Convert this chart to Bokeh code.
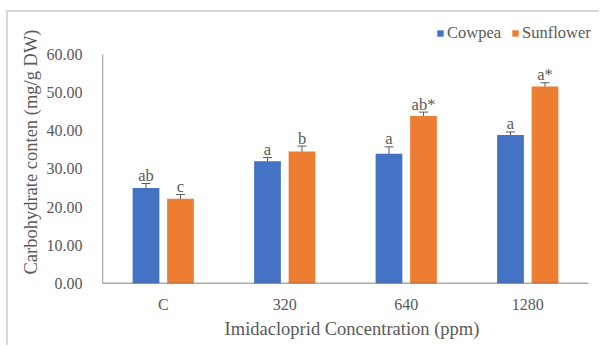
from bokeh.plotting import figure
from bokeh.models import (ColumnDataSource, Range1d, FixedTicker, Whisker, TeeHead,
                          Legend, LegendItem)
from bokeh.embed import file_html
from bokeh.resources import INLINE
from bokeh.core.properties import value

categories = ["C", "320", "640", "1280"]
cowpea = [25.0, 32.0, 34.0, 38.9]
cowpea_err = [1.2, 1.0, 1.8, 0.8]
sunflower = [22.2, 34.6, 43.9, 51.6]
sunflower_err = [1.1, 1.4, 1.0, 1.0]
cowpea_labels = ["ab", "a", "a", "a"]
sunflower_labels = ["c", "b", "ab*", "a*"]
y_ticks = [0, 10, 20, 30, 40, 50, 60]

BLUE = "#4472C4"
ORANGE = "#ED7D31"
GRAY = "#595959"
FONT = "Liberation Serif"

off = 0.142
bw = 0.22
n = len(categories)
centers = [i + 0.5 for i in range(n)]

p = figure(width=593, height=335, output_backend="svg", toolbar_location=None,
           x_range=Range1d(0, n * 499 / 486), y_range=Range1d(0, 68.9),
           min_border_left=94, min_border_right=0, min_border_top=8,
           min_border_bottom=64)
p.margin = (10, 0, 0, 6)
p.styles = {"border-top": "2px solid #d9d9d9", "border-left": "2px solid #d9d9d9"}
p.outline_line_color = None
p.xgrid.grid_line_color = None
p.ygrid.grid_line_color = None
p.background_fill_color = "white"
p.border_fill_color = "white"

src_c = ColumnDataSource(dict(x=[c - off for c in centers], top=cowpea,
                              up=[v + e for v, e in zip(cowpea, cowpea_err)],
                              lo=[v - e for v, e in zip(cowpea, cowpea_err)],
                              lab=cowpea_labels))
src_s = ColumnDataSource(dict(x=[c + off for c in centers], top=sunflower,
                              up=[v + e for v, e in zip(sunflower, sunflower_err)],
                              lo=[v - e for v, e in zip(sunflower, sunflower_err)],
                              lab=sunflower_labels))

rc = p.vbar(x="x", top="top", width=bw, source=src_c, fill_color=BLUE, line_color=None)
rs = p.vbar(x="x", top="top", width=bw, source=src_s, fill_color=ORANGE, line_color=None)

for src in (src_c, src_s):
    w = Whisker(source=src, base="x", upper="up", lower="lo", line_color=GRAY, line_width=1,
                upper_head=TeeHead(size=9, line_color=GRAY, line_width=1),
                lower_head=TeeHead(size=9, line_color=GRAY, line_width=1))
    p.add_layout(w)
    p.text(x="x", y="up", text="lab", source=src, text_align="center",
           text_baseline="alphabetic", y_offset=-8, text_font=value(FONT),
           text_font_size="16.5px", text_color=GRAY)

# axis lines: y from 0 to 60, x across the categories
p.segment(x0=[0], y0=[0], x1=[0], y1=[y_ticks[-1]], line_color=GRAY, line_width=1.3)
p.segment(x0=[0], y0=[0], x1=[n], y1=[0], line_color=GRAY, line_width=1.3)

p.xaxis.ticker = FixedTicker(ticks=centers)
p.xaxis.major_label_overrides = {c: lab for c, lab in zip(centers, categories)}
p.yaxis.ticker = FixedTicker(ticks=y_ticks)
p.yaxis.major_label_overrides = {t: f"{t:.2f}" for t in y_ticks}
for ax in (p.xaxis, p.yaxis):
    ax.major_tick_line_color = None
    ax.minor_tick_line_color = None
    ax.axis_line_color = None
    ax.major_label_text_font = FONT
    ax.major_label_text_font_size = "16px"
    ax.major_label_text_color = GRAY
    ax.axis_label_text_font = FONT
    ax.axis_label_text_font_size = "18.5px"
    ax.axis_label_text_font_style = "normal"
    ax.axis_label_text_color = GRAY
p.xaxis.major_label_standoff = 6
p.yaxis.major_label_standoff = 14
p.xaxis.axis_label = "Imidacloprid Concentration (ppm)"
p.yaxis.axis_label = "Carbohydrate conten (mg/g DW)"
p.xaxis.axis_label_standoff = 3
p.yaxis.axis_label_standoff = 3
p.xaxis.axis_label_text_align = "center"

legend = Legend(items=[LegendItem(label="Cowpea", renderers=[rc]),
                       LegendItem(label="Sunflower", renderers=[rs])],
                orientation="horizontal", location=(334, 240),
                glyph_width=8, glyph_height=8, label_standoff=3, spacing=10,
                padding=0, margin=0, border_line_color=None,
                background_fill_alpha=0,
                label_text_font=FONT, label_text_font_size="16.5px",
                label_text_color=GRAY)
p.add_layout(legend)

open("out.html", "w").write(file_html(p, INLINE))
